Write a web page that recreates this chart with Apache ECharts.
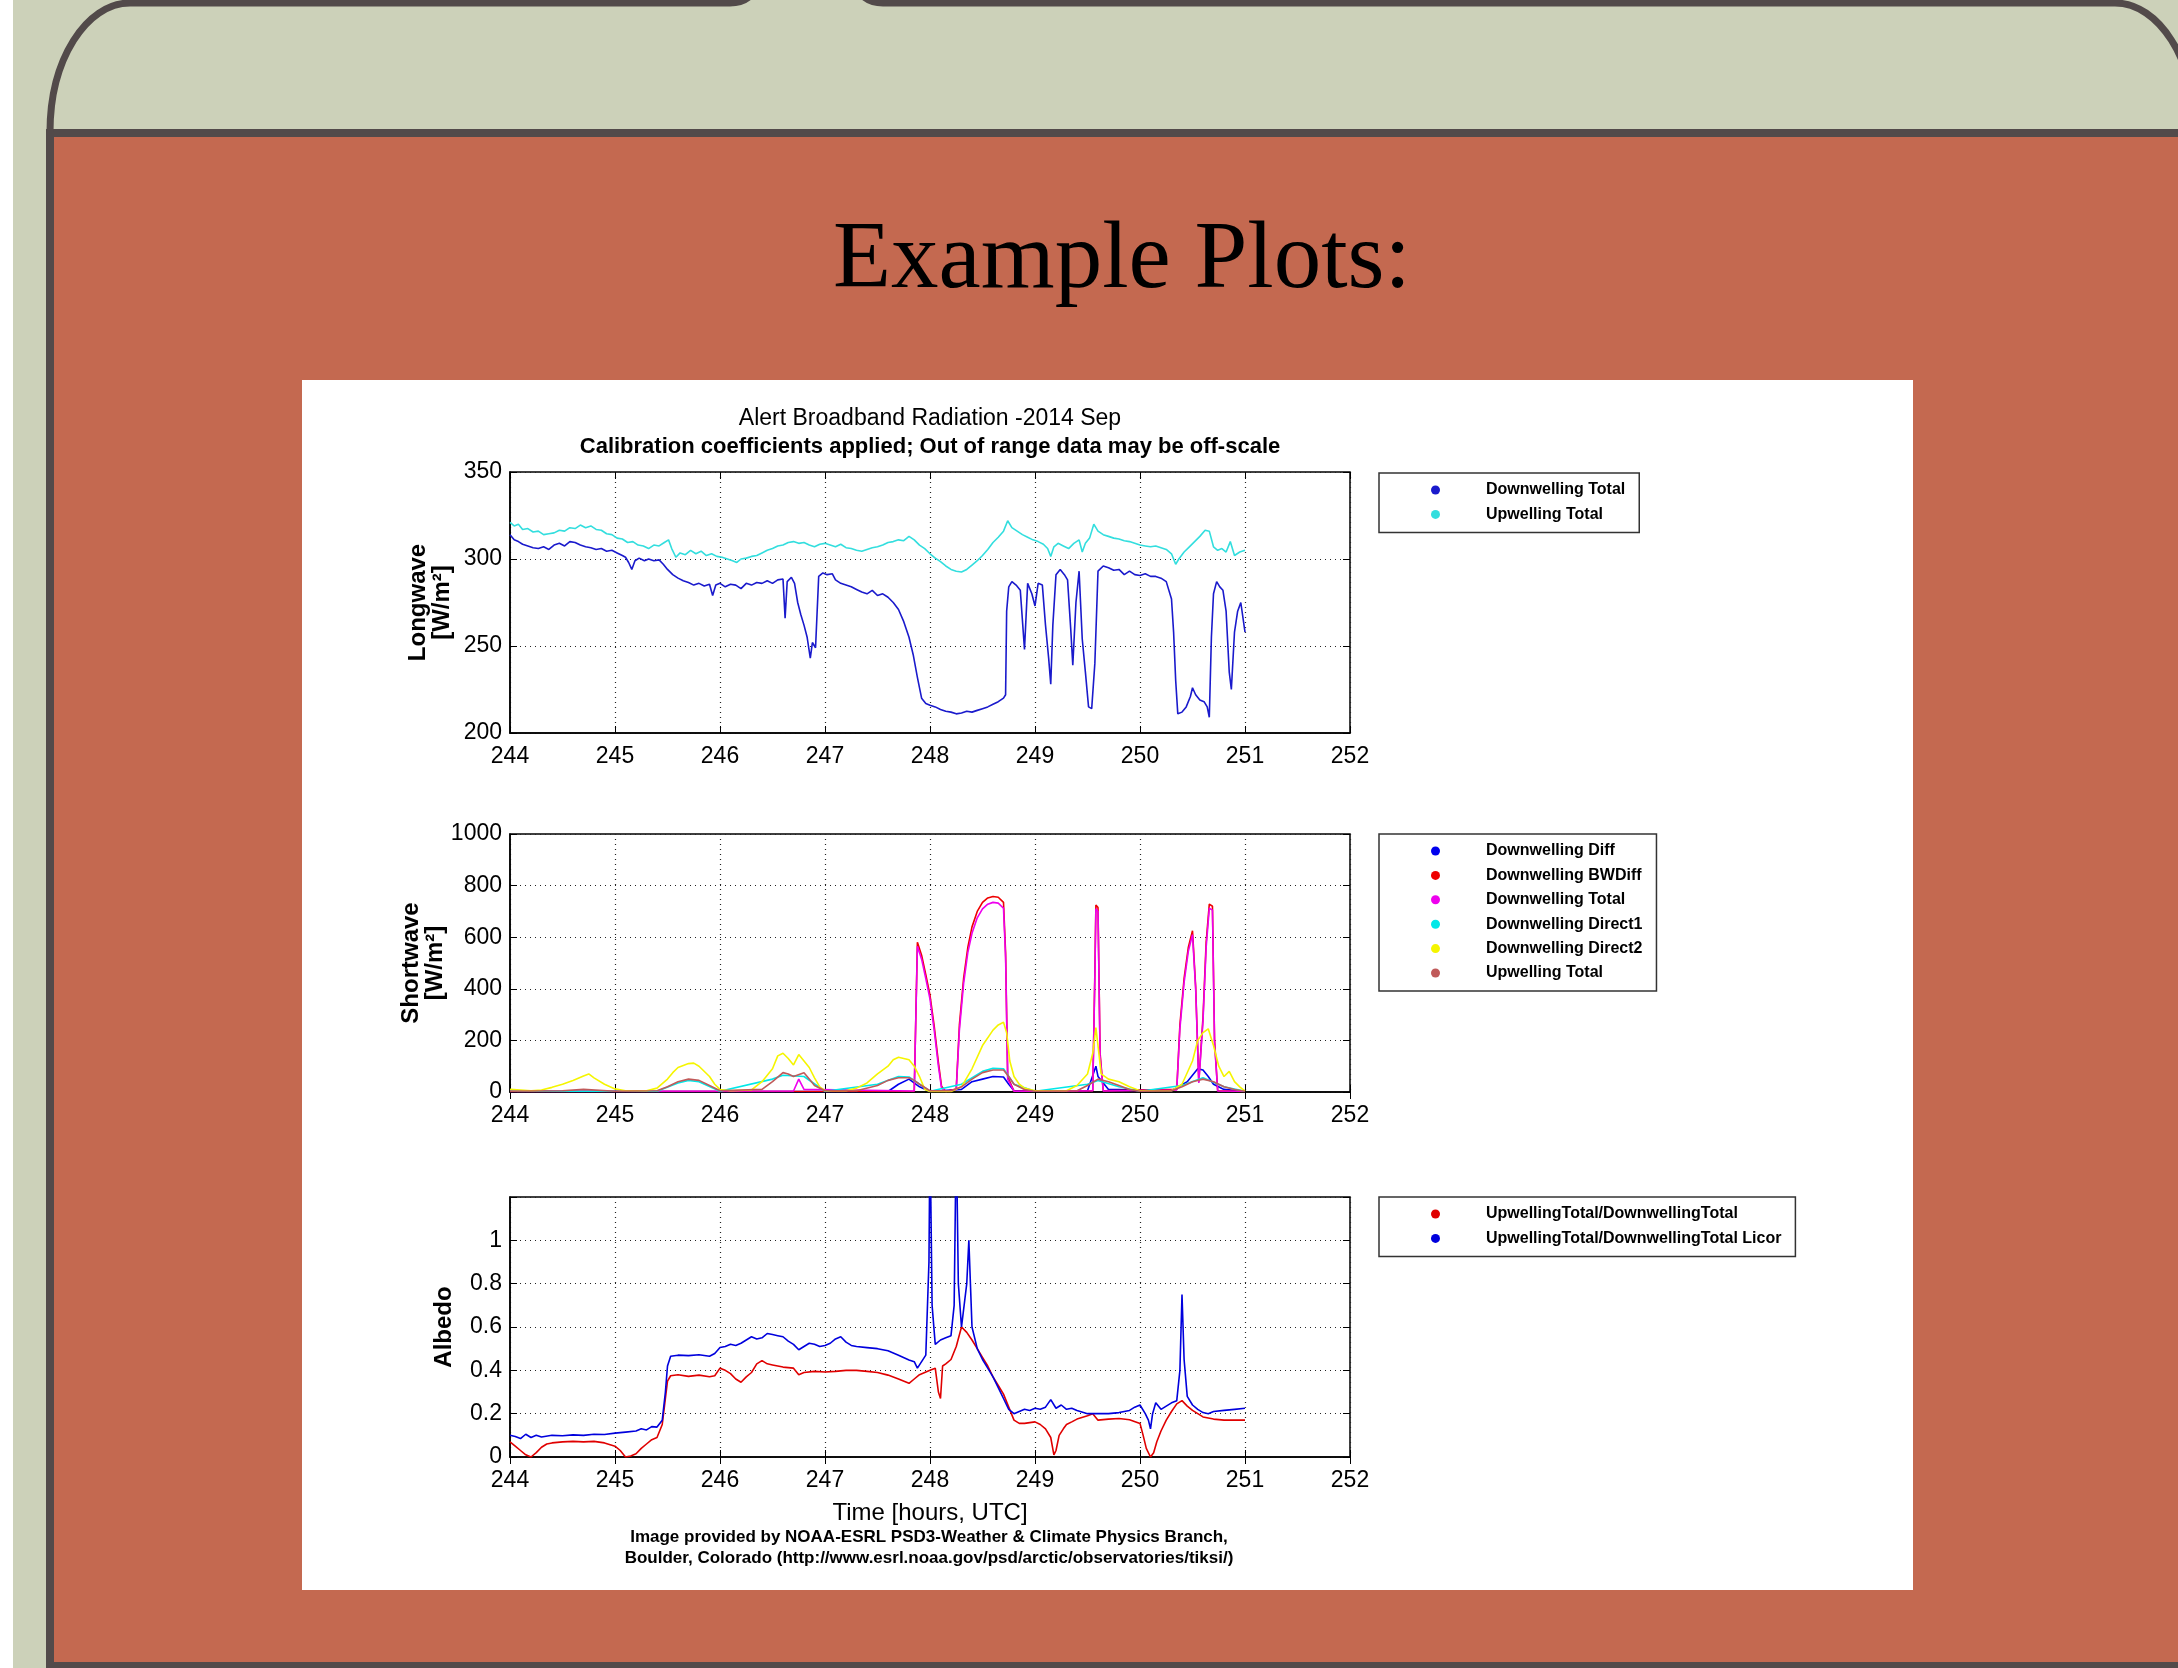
<!DOCTYPE html>
<html>
<head>
<meta charset="utf-8">
<script src="https://cdn.jsdelivr.net/npm/echarts@6/dist/echarts.min.js"></script>
<style>
  html, body { margin: 0; padding: 0; background: #fff; }
  #main { width: 2178px; height: 1668px; }
</style>
</head>
<body>
<div id="main"></div>
<script>
// x ticks shared by all three panels
const dayTicks = [244, 245, 246, 247, 248, 249, 250, 251, 252]

// Longwave [W/m2] — [day, value]
const lwDownTotal = [
  [244.00,314],[244.04,311],[244.08,310],[244.12,308.5],[244.17,307.5],[244.22,306.5],[244.27,306],[244.32,307],[244.37,305.5],[244.42,308],
  [244.47,309],[244.52,307.5],[244.57,310],[244.62,309.5],[244.67,308],[244.72,307],[244.77,306.5],[244.82,305.5],[244.87,306],[244.92,304.5],
  [244.97,305],[245.02,303.5],[245.07,302],[245.10,301],[245.13,298],[245.16,294],[245.19,299],[245.23,300.5],[245.28,299],[245.32,300],
  [245.37,299],[245.42,299.5],[245.46,297],[245.50,294],[245.55,291],[245.60,289],[245.65,287.5],[245.70,286.5],[245.75,285],[245.80,286],
  [245.85,284.5],[245.90,285.5],[245.93,279],[245.96,285],[246.00,286],[246.05,284],[246.10,285.5],[246.15,285],[246.20,283],[246.25,286],
  [246.30,285],[246.35,286.5],[246.40,286],[246.45,287.5],[246.50,286],[246.55,288],[246.60,288.5],[246.62,266],[246.64,287],[246.68,289.5],
  [246.71,286],[246.74,275],[246.77,268],[246.80,262],[246.83,255],[246.86,243],[246.88,252],[246.91,249],[246.94,290],[246.98,292],
  [247.02,291],[247.07,291.5],[247.10,288],[247.15,286],[247.20,285],[247.25,284],[247.30,282.5],[247.35,281],[247.40,280],[247.45,282],
  [247.50,279],[247.55,280],[247.60,278],[247.65,275],[247.70,271],[247.75,264],[247.80,255],[247.84,245],[247.88,232],[247.92,220],
  [247.96,217],[248.00,216],[248.05,215],[248.10,213.5],[248.15,212.5],[248.20,212],[248.25,211],[248.30,211.5],[248.35,212.5],[248.40,212],
  [248.45,213],[248.50,214],[248.55,215],[248.60,216.5],[248.65,218],[248.70,220],[248.72,222],[248.73,270],[248.75,284],[248.78,287],
  [248.82,285],[248.86,282],[248.90,248],[248.93,286],[248.97,280],[249.00,273],[249.03,286],[249.07,285],[249.10,262],[249.13,243],
  [249.15,228],[249.17,262],[249.20,291],[249.24,294],[249.28,291],[249.31,288],[249.34,260],[249.36,239],[249.39,275],[249.42,293],
  [249.45,254],[249.48,235],[249.51,215],[249.54,214],[249.57,240],[249.60,293],[249.65,296],[249.70,295],[249.75,293.5],[249.80,294],
  [249.85,291],[249.90,293],[249.95,291],[250.00,290.5],[250.05,291.5],[250.10,290],[250.15,290],[250.20,289],[250.25,287],[250.30,277],
  [250.32,258],[250.34,230],[250.36,211],[250.40,212],[250.44,215],[250.48,221],[250.50,226],[250.53,222],[250.57,219],[250.61,218],
  [250.64,215],[250.66,209],[250.68,255],[250.70,280],[250.73,287],[250.76,284],[250.79,282],[250.82,270],[250.85,235],[250.87,225],
  [250.90,258],[250.93,270],[250.96,275],[251.00,258]
]
const lwUpTotal = [
  [244.00,321],[244.04,319],[244.08,320],[244.12,317],[244.17,317.5],[244.22,315.5],[244.27,316],[244.32,314],[244.37,314.5],[244.42,315],
  [244.47,316.5],[244.52,316],[244.57,318],[244.62,317.5],[244.67,319.5],[244.72,318],[244.77,319],[244.82,317],[244.87,316.5],[244.92,314.5],
  [244.97,314],[245.02,312],[245.07,311.5],[245.12,309.5],[245.17,310],[245.22,308],[245.27,307.5],[245.32,306],[245.37,308],[245.42,307.5],
  [245.47,309.5],[245.51,311],[245.54,306],[245.58,301],[245.62,303.5],[245.67,302.5],[245.72,305],[245.77,303],[245.82,304.5],[245.87,302],
  [245.92,303],[245.97,301.5],[246.02,301],[246.07,300],[246.12,299],[246.16,298],[246.20,300],[246.25,300.5],[246.30,301.5],[246.35,302],
  [246.40,303.5],[246.45,305],[246.50,306],[246.55,307.5],[246.60,308],[246.65,309.5],[246.70,310],[246.75,309],[246.80,309.5],[246.85,308],
  [246.90,307],[246.95,308.5],[247.00,309],[247.05,308],[247.10,307],[247.15,308.5],[247.20,306.5],[247.25,306],[247.30,305],[247.35,304.5],
  [247.40,305.5],[247.45,306.5],[247.50,307],[247.55,308],[247.60,309.5],[247.65,310],[247.70,311],[247.75,310.5],[247.80,313],[247.85,311],
  [247.90,308],[247.95,306],[248.00,303],[248.05,300.5],[248.10,298.5],[248.15,296],[248.20,294],[248.25,293],[248.30,292.5],[248.35,294],
  [248.40,296.5],[248.45,299],[248.50,302],[248.55,305.5],[248.60,309.5],[248.65,312.5],[248.70,316],[248.74,322],[248.78,318],[248.83,316],
  [248.88,314],[248.93,312.5],[248.98,311],[249.03,310],[249.08,308.5],[249.12,306],[249.15,301.5],[249.18,307],[249.22,309],[249.27,307.5],
  [249.32,306],[249.37,309],[249.42,311],[249.45,304],[249.48,309],[249.52,312],[249.56,320],[249.60,316],[249.65,314],[249.70,313],
  [249.75,312],[249.80,311.5],[249.85,310.5],[249.90,310],[249.95,309],[250.00,308],[250.05,307.5],[250.10,307],[250.15,307.5],[250.20,306.5],
  [250.25,305.5],[250.30,303],[250.34,297],[250.37,300],[250.42,304],[250.47,307],[250.52,310],[250.57,313],[250.62,316.5],[250.66,316],
  [250.70,307],[250.74,305],[250.78,306],[250.82,304],[250.86,310],[250.90,302],[250.95,304],[251.00,305]
]

// Shortwave [W/m2]
const swDiff = [
  [244,2],[247.6,2],[247.7,30],[247.8,50],[247.9,20],[248,2],[248.3,10],[248.4,40],[248.5,50],[248.6,60],[248.7,58],[248.75,30],
  [248.8,5],[249.5,5],[249.58,100],[249.6,60],[249.7,10],[250.3,5],[250.45,40],[250.55,90],[250.6,85],[250.65,60],[250.7,30],[250.8,10],[251,2]
]
const swBWDiff = [
  [244,2],[247.85,3],[247.88,580],[247.92,530],[247.96,455],[248.0,375],[248.04,255],[248.08,115],[248.11,22],[248.15,2],[248.25,12],
  [248.28,260],[248.32,440],[248.36,560],[248.4,640],[248.45,700],[248.5,735],[248.55,752],[248.6,758],[248.65,755],[248.7,735],[248.72,540],
  [248.74,60],[248.8,3],[249.55,5],[249.57,460],[249.58,725],[249.6,715],[249.62,150],[249.65,5],[250.35,10],[250.38,260],[250.42,440],
  [250.46,560],[250.5,625],[250.53,410],[250.56,40],[250.6,290],[250.63,580],[250.66,728],[250.69,720],[250.71,200],[250.74,5],[251,2]
]
const swTotal = [
  [244,3],[246.7,4],[246.75,50],[246.8,10],[247.85,4],[247.88,565],[247.92,515],[247.96,440],[248.0,360],[248.04,240],[248.08,100],
  [248.11,15],[248.15,2],[248.25,10],[248.28,240],[248.32,420],[248.36,540],[248.4,615],[248.45,675],[248.5,710],[248.55,728],[248.6,735],
  [248.65,732],[248.7,712],[248.72,520],[248.74,50],[248.8,3],[249.55,5],[249.57,440],[249.58,710],[249.6,700],[249.62,140],[249.65,4],
  [250.35,8],[250.38,245],[250.42,425],[250.46,545],[250.5,610],[250.53,400],[250.56,35],[250.6,275],[250.63,560],[250.66,712],[250.69,705],
  [250.71,190],[250.74,4],[251,3]
]
const swDirect1 = [
  [244,3],[245.4,3],[245.6,35],[245.7,45],[245.8,40],[246,3],[246.5,50],[246.6,65],[246.8,60],[247,3],[247.5,30],[247.7,60],[247.8,58],
  [248,3],[248.3,30],[248.5,80],[248.6,92],[248.7,90],[248.8,30],[249,3],[249.5,30],[249.6,45],[249.8,20],[250,3],[250.4,25],[250.6,55],
  [250.8,20],[251,3]
]
const swDirect2 = [
  [244,10],[244.1,8],[244.2,5],[244.3,8],[244.4,18],[244.5,30],[244.6,45],[244.7,62],[244.75,70],[244.8,55],[244.9,30],[245.0,12],[245.1,5],
  [245.3,5],[245.4,15],[245.5,50],[245.55,75],[245.6,95],[245.7,110],[245.75,112],[245.8,100],[245.9,60],[245.95,30],[246.0,10],[246.1,5],
  [246.3,8],[246.4,40],[246.5,90],[246.55,140],[246.6,150],[246.65,130],[246.7,105],[246.75,145],[246.8,120],[246.85,95],[246.9,55],
  [246.95,20],[247.0,5],[247.2,5],[247.3,15],[247.4,35],[247.5,70],[247.6,100],[247.65,125],[247.7,135],[247.75,130],[247.8,125],
  [247.85,100],[247.9,60],[247.95,10],[248.0,2],[248.2,2],[248.3,20],[248.4,90],[248.5,180],[248.6,240],[248.65,260],[248.7,270],
  [248.73,230],[248.76,120],[248.8,60],[248.85,30],[248.9,15],[249.0,5],[249.3,5],[249.4,25],[249.5,70],[249.55,150],[249.58,250],
  [249.6,180],[249.63,70],[249.7,50],[249.8,40],[249.9,20],[250.0,5],[250.3,5],[250.4,30],[250.5,120],[250.55,200],[250.6,230],
  [250.65,245],[250.7,180],[250.75,100],[250.8,60],[250.85,80],[250.9,40],[250.95,20],[251,3]
]
const swUpTotal = [
  [244,3],[244.5,5],[244.7,10],[245,3],[245.4,5],[245.5,20],[245.6,40],[245.7,50],[245.8,45],[245.9,25],[246,5],[246.4,10],[246.5,40],
  [246.6,75],[246.65,70],[246.7,60],[246.8,75],[246.85,50],[246.9,25],[247,5],[247.3,5],[247.5,25],[247.6,45],[247.7,55],[247.8,55],
  [247.85,45],[247.9,30],[248,5],[248.2,5],[248.3,20],[248.4,50],[248.5,75],[248.6,85],[248.7,85],[248.75,60],[248.8,30],[248.9,10],
  [249,3],[249.4,5],[249.5,25],[249.6,50],[249.7,40],[249.8,25],[249.9,10],[250,3],[250.3,5],[250.4,20],[250.5,40],[250.6,50],[250.7,40],
  [250.8,20],[250.9,10],[251,3]
]

// Albedo
const albedoRatio = [
  [244.0,0.07],[244.05,0.05],[244.1,0.03],[244.15,0.01],[244.2,0.0],[244.25,0.02],[244.3,0.045],[244.35,0.06],[244.4,0.065],[244.5,0.07],
  [244.6,0.072],[244.7,0.07],[244.8,0.072],[244.9,0.065],[245.0,0.05],[245.05,0.03],[245.1,0.0],[245.15,0.005],[245.2,0.015],[245.25,0.04],
  [245.3,0.06],[245.35,0.08],[245.4,0.09],[245.45,0.15],[245.48,0.27],[245.5,0.35],[245.53,0.375],[245.6,0.38],[245.7,0.372],[245.8,0.378],
  [245.9,0.37],[245.95,0.375],[246.0,0.41],[246.05,0.4],[246.1,0.385],[246.15,0.36],[246.2,0.345],[246.25,0.37],[246.3,0.39],[246.35,0.43],
  [246.4,0.445],[246.45,0.43],[246.5,0.425],[246.6,0.415],[246.7,0.41],[246.75,0.38],[246.8,0.39],[246.9,0.395],[247.0,0.392],[247.1,0.395],
  [247.2,0.4],[247.3,0.4],[247.4,0.395],[247.5,0.39],[247.6,0.378],[247.7,0.36],[247.8,0.34],[247.85,0.36],[247.9,0.38],[247.95,0.39],
  [248.0,0.4],[248.05,0.41],[248.08,0.3],[248.1,0.27],[248.12,0.42],[248.15,0.43],[248.2,0.45],[248.25,0.51],[248.3,0.6],[248.35,0.575],
  [248.4,0.54],[248.45,0.5],[248.5,0.46],[248.55,0.42],[248.6,0.37],[248.65,0.33],[248.7,0.29],[248.75,0.23],[248.8,0.17],[248.85,0.155],
  [248.9,0.155],[249.0,0.162],[249.05,0.15],[249.1,0.13],[249.15,0.09],[249.18,0.01],[249.2,0.03],[249.23,0.1],[249.27,0.13],[249.3,0.15],
  [249.35,0.162],[249.4,0.175],[249.5,0.19],[249.55,0.2],[249.6,0.17],[249.7,0.175],[249.8,0.178],[249.9,0.172],[250.0,0.155],[250.03,0.1],
  [250.06,0.04],[250.1,0.0],[250.13,0.02],[250.16,0.07],[250.2,0.12],[250.25,0.17],[250.3,0.21],[250.35,0.245],[250.4,0.26],[250.45,0.235],
  [250.5,0.215],[250.6,0.185],[250.7,0.175],[250.8,0.17],[250.9,0.17],[251.0,0.17]
]
const albedoLicor = [
  [244.0,0.10],[244.05,0.095],[244.1,0.085],[244.15,0.105],[244.2,0.09],[244.25,0.1],[244.3,0.092],[244.4,0.1],[244.5,0.098],[244.6,0.102],
  [244.7,0.1],[244.8,0.105],[244.9,0.104],[245.0,0.11],[245.1,0.115],[245.2,0.12],[245.25,0.13],[245.3,0.125],[245.35,0.14],[245.4,0.138],
  [245.45,0.17],[245.48,0.3],[245.5,0.42],[245.53,0.465],[245.6,0.47],[245.7,0.468],[245.8,0.472],[245.9,0.465],[245.95,0.478],[246.0,0.505],
  [246.05,0.51],[246.1,0.52],[246.15,0.515],[246.2,0.525],[246.25,0.54],[246.3,0.555],[246.35,0.545],[246.4,0.55],[246.45,0.57],[246.5,0.565],
  [246.55,0.56],[246.6,0.555],[246.65,0.535],[246.7,0.52],[246.75,0.495],[246.8,0.51],[246.85,0.525],[246.9,0.52],[246.95,0.51],[247.0,0.515],
  [247.05,0.525],[247.1,0.545],[247.15,0.555],[247.2,0.53],[247.25,0.515],[247.3,0.51],[247.4,0.505],[247.5,0.5],[247.6,0.49],[247.7,0.47],
  [247.8,0.448],[247.85,0.44],[247.88,0.41],[247.92,0.44],[247.96,0.47],[247.99,0.9],[248.0,1.5],[248.02,0.7],[248.05,0.52],[248.1,0.54],
  [248.15,0.55],[248.2,0.56],[248.23,0.7],[248.25,1.5],[248.27,0.8],[248.3,0.6],[248.35,0.8],[248.37,1.0],[248.4,0.6],[248.45,0.5],
  [248.5,0.45],[248.55,0.41],[248.6,0.37],[248.65,0.32],[248.7,0.27],[248.75,0.22],[248.8,0.2],[248.85,0.21],[248.9,0.22],[248.95,0.215],
  [249.0,0.225],[249.05,0.22],[249.1,0.23],[249.15,0.265],[249.2,0.225],[249.25,0.24],[249.3,0.22],[249.35,0.225],[249.4,0.215],[249.5,0.2],
  [249.6,0.2],[249.7,0.2],[249.8,0.205],[249.9,0.215],[249.95,0.23],[250.0,0.24],[250.05,0.2],[250.08,0.17],[250.1,0.13],[250.12,0.2],
  [250.15,0.25],[250.2,0.22],[250.25,0.235],[250.3,0.25],[250.35,0.26],[250.38,0.4],[250.4,0.75],[250.42,0.45],[250.45,0.28],[250.5,0.24],
  [250.55,0.22],[250.6,0.205],[250.65,0.2],[250.7,0.21],[250.8,0.215],[250.9,0.22],[251.0,0.225]
]

// legend labels (internal series names are unique, shown text is not)
const labels = {
  lwDown: 'Downwelling Total', lwUp: 'Upwelling Total',
  swDiff: 'Downwelling Diff', swBW: 'Downwelling BWDiff', swTot: 'Downwelling Total',
  swD1: 'Downwelling Direct1', swD2: 'Downwelling Direct2', swUp: 'Upwelling Total',
  alb: 'UpwellingTotal/DownwellingTotal', albL: 'UpwellingTotal/DownwellingTotal Licor'
}

const FONT = 'Liberation Sans, Arial, sans-serif'
const DARK = '#524a4a'

const grids = [
  { left: 510, top: 472, width: 840, height: 261 },
  { left: 510, top: 834, width: 840, height: 258 },
  { left: 510, top: 1197, width: 840, height: 260 }
].map(g => ({ ...g, show: true, borderColor: '#000', borderWidth: 1.5, backgroundColor: '#fff' }))

const dotted = { show: true, lineStyle: { type: [1, 4], color: '#222', width: 1.2 } }
const tick = { show: true, inside: true, length: 7, lineStyle: { color: '#000' } }

const xAxisBase = (i) => ({
  type: 'value', gridIndex: i, min: dayTicks[0], max: dayTicks[dayTicks.length - 1], interval: 1,
  axisLine: { lineStyle: { color: '#000', width: 1.5 } },
  axisTick: tick,
  axisLabel: { fontFamily: FONT, fontSize: 23, color: '#000', margin: 12 },
  splitLine: dotted
})
// MATLAB style box: tick marks mirrored on top and right edges
const xAxisTop = (i) => ({
  type: 'value', gridIndex: i, position: 'top', min: dayTicks[0], max: dayTicks[dayTicks.length - 1], interval: 1,
  axisLine: { show: false }, axisTick: tick, axisLabel: { show: false }, splitLine: { show: false }
})

const yAxisBase = (i, min, max, interval, name, gap) => ({
  type: 'value', gridIndex: i, min, max, interval,
  name, nameLocation: 'middle', nameRotate: 90, nameGap: gap,
  nameTextStyle: { fontFamily: FONT, fontWeight: 'bold', fontSize: 24, color: '#000', lineHeight: 24 },
  axisLine: { show: true, lineStyle: { color: '#000', width: 1.5 } },
  axisTick: tick,
  axisLabel: { fontFamily: FONT, fontSize: 23, color: '#000', margin: 8, formatter: (v) => String(v) },
  splitLine: dotted
})
const yAxisRight = (i, min, max, interval) => ({
  type: 'value', gridIndex: i, position: 'right', min, max, interval,
  axisLine: { show: false }, axisTick: tick, axisLabel: { show: false }, splitLine: { show: false }
})

const line = (id, data, color, i, w) => ({
  name: id, type: 'line', data, xAxisIndex: i, yAxisIndex: i,
  showSymbol: false, symbol: 'none', color,
  lineStyle: { color, width: w || 1.6 }, clip: true, animation: false
})

const legendBase = (top, names, padRight) => ({
  orient: 'vertical', left: 1379, top, data: names, icon: 'circle',
  itemWidth: 9, itemHeight: 9, itemGap: 6.4, selectedMode: false,
  padding: [8, padRight, 9, 52], borderColor: '#333', borderWidth: 1.5, backgroundColor: '#fff',
  formatter: (n) => '{g| }' + labels[n],
  textStyle: { fontFamily: FONT, fontWeight: 'bold', fontSize: 16, color: '#000', lineHeight: 18, rich: { g: { width: 41 } } }
})

const bg = (shape, fill) => ({ type: 'rect', shape, style: { fill }, z: -10, silent: true })
const stroke = { stroke: DARK, lineWidth: 7, fill: null }
const curve = (x1, y1, cpx1, cpy1, cpx2, cpy2, x2, y2) =>
  ({ type: 'bezierCurve', z: -9, silent: true, shape: { x1, y1, cpx1, cpy1, cpx2, cpy2, x2, y2 }, style: stroke })
const seg = (x1, y1, x2, y2) => ({ type: 'line', z: -9, silent: true, shape: { x1, y1, x2, y2 }, style: stroke })
const label = (text, x, y, size, bold, family) => ({
  type: 'text', x, y, z: 5, silent: true,
  style: { text, fontFamily: family || FONT, fontWeight: bold ? 'bold' : 'normal', fontSize: size, fill: '#000', align: 'center', verticalAlign: 'middle' }
})

const chart = echarts.init(document.getElementById('main'))
chart.setOption({
  animation: false,
  backgroundColor: '#fff',
  graphic: [
    bg({ x: 13, y: 0, width: 2165, height: 1668 }, '#ccd1b9'),
    bg({ x: 46, y: 129, width: 2132, height: 1539 }, DARK),
    bg({ x: 54, y: 137, width: 2124, height: 1525 }, '#c46950'),
    bg({ x: 302, y: 380, width: 1611, height: 1210 }, '#ffffff'),
    curve(50, 132, 50, 60, 86, 3, 130, 3),
    seg(130, 3, 730, 3),
    curve(730, 3, 742, 3, 750, -2, 755, -10),
    curve(858, -10, 863, -2, 871, 3, 883, 3),
    seg(883, 3, 2115, 3),
    curve(2115, 3, 2159, 3, 2195, 60, 2195, 130),
    label('Example Plots:', 1122, 262, 95, false, 'Liberation Serif, Times New Roman, serif'),
    label('Alert Broadband Radiation -2014 Sep', 930, 419, 23, false),
    label('Calibration coefficients applied; Out of range data may be off-scale', 930, 447, 22, true),
    label('Image provided by NOAA-ESRL PSD3-Weather & Climate Physics Branch,', 929, 1537, 17, true),
    label('Boulder, Colorado (http://www.esrl.noaa.gov/psd/arctic/observatories/tiksi/)', 929, 1558, 17, true)
  ],
  grid: grids,
  xAxis: [
    xAxisBase(0),
    xAxisBase(1),
    { ...xAxisBase(2), name: 'Time [hours, UTC]', nameLocation: 'middle', nameGap: 44,
      nameTextStyle: { fontFamily: FONT, fontSize: 24, color: '#000' } },
    xAxisTop(0), xAxisTop(1), xAxisTop(2)
  ],
  yAxis: [
    yAxisBase(0, 200, 350, 50, 'Longwave\n[W/m²]', 56),
    yAxisBase(1, 0, 1000, 200, 'Shortwave\n[W/m²]', 56),
    { ...yAxisBase(2, 0, 1.2, 0.2, 'Albedo', 54),
      axisLabel: { fontFamily: FONT, fontSize: 23, color: '#000', margin: 8,
        formatter: (v) => v > 1.1 ? '' : (v === 0 ? '0' : Math.abs(v - 1) < 1e-9 ? '1' : v.toFixed(1)) } },
    yAxisRight(0, 200, 350, 50),
    yAxisRight(1, 0, 1000, 200),
    yAxisRight(2, 0, 1.2, 0.2)
  ],
  legend: [
    legendBase(473, ['lwDown', 'lwUp'], 14),
    legendBase(834, ['swDiff', 'swBW', 'swTot', 'swD1', 'swD2', 'swUp'], 14),
    legendBase(1197, ['alb', 'albL'], 14)
  ],
  series: [
    line('lwDown', lwDownTotal, '#1a1acc', 0),
    line('lwUp', lwUpTotal, '#33dede', 0),
    line('swDiff', swDiff, '#0000ee', 1),
    line('swBW', swBWDiff, '#ee0000', 1),
    line('swTot', swTotal, '#ee00ee', 1),
    line('swD1', swDirect1, '#00e8e8', 1),
    line('swD2', swDirect2, '#f5f500', 1),
    line('swUp', swUpTotal, '#c05a5a', 1),
    line('alb', albedoRatio, '#e00000', 2),
    line('albL', albedoLicor, '#0000dd', 2)
  ]
})
</script>
</body>
</html>
